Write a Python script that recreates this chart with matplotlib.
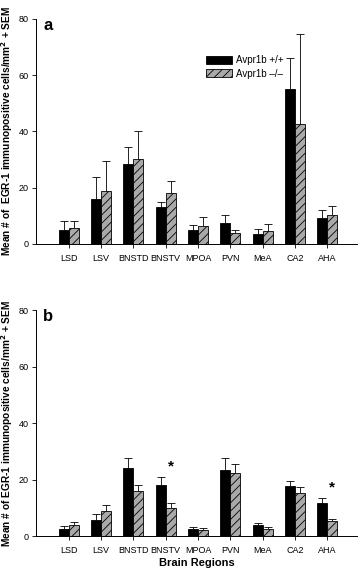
import matplotlib
matplotlib.use('Agg')
import matplotlib.pyplot as plt
import numpy as np

plt.rcParams['font.family'] = ['Liberation Sans', 'DejaVu Sans']
plt.rcParams['hatch.linewidth'] = 0.6

regions = ['LSD', 'LSV', 'BNSTD', 'BNSTV', 'MPOA', 'PVN', 'MeA', 'CA2', 'AHA']
groups = ['Avpr1b +/+', 'Avpr1b \u2013/\u2013']

# panel a: means and SEM
a_wt = [5.0, 15.9, 28.4, 13.3, 4.9, 7.3, 3.7, 55.2, 9.1]
a_wt_sem = [3.3, 7.8, 6.1, 1.6, 1.7, 3.0, 1.5, 10.8, 3.1]
a_ko = [5.6, 18.8, 30.2, 18.2, 6.4, 3.9, 4.7, 42.7, 10.3]
a_ko_sem = [2.7, 10.5, 10.1, 4.2, 3.2, 1.2, 2.3, 31.9, 3.2]

# panel b: means and SEM
b_wt = [2.6, 5.5, 24.1, 18.1, 2.6, 23.4, 3.8, 17.6, 11.7]
b_wt_sem = [0.9, 2.3, 3.6, 2.7, 0.6, 4.1, 0.9, 2.0, 1.6]
b_ko = [3.9, 8.7, 15.9, 9.9, 2.2, 22.3, 2.4, 15.3, 5.3]
b_ko_sem = [0.9, 2.4, 2.2, 1.7, 0.5, 3.2, 0.9, 1.9, 0.8]

# significance stars in panel b (region names)
b_stars = ['BNSTV', 'AHA']

ylabel_a = 'Mean # of  EGR-1 immunopositive cells/mm$^\\mathbf{2}$ + SEM'
ylabel_b = 'Mean # of EGR-1 immunopositive cells/mm$^\\mathbf{2}$ + SEM'


def draw_panel(ax, wt, wt_sem, ko, ko_sem, letter, ylabel):
    '''
    Draws one grouped bar panel with upper-only error bars.
    '''
    x = np.arange(len(regions))
    w = 0.31
    ax.bar(x - w / 2, wt, w, color='black', edgecolor='black',
           linewidth=0.6, label=groups[0], zorder=2)
    ax.bar(x + w / 2, ko, w, color='#a9a9a9', edgecolor='black',
           linewidth=0.6, hatch='////', label=groups[1], zorder=2)
    for xs, m, s in [(x - w / 2, wt, wt_sem), (x + w / 2, ko, ko_sem)]:
        eb = ax.errorbar(xs, m, yerr=[np.zeros(len(s)), s], fmt='none',
                         ecolor='black', elinewidth=0.6, capsize=3,
                         capthick=0.6, zorder=1)
        eb[1][0].set_visible(False)

    ax.set_xlim(-1.02, 8.93)
    ax.set_ylim(0, 80)
    ax.set_yticks([0, 20, 40, 60, 80])
    ax.set_xticks(x)
    ax.set_xticklabels(regions)
    ax.tick_params(axis='both', labelsize=6.5, length=3, width=0.6,
                   direction='out', pad=2)
    ax.tick_params(axis='x', pad=4)
    for sp in ['top', 'right']:
        ax.spines[sp].set_visible(False)
    for sp in ['left', 'bottom']:
        ax.spines[sp].set_linewidth(0.7)
    ax.text(0.022, 1.005, letter, transform=ax.transAxes, fontsize=12,
            fontweight='bold', va='top', ha='left')
    ax.set_ylabel(ylabel, fontsize=7.3, fontweight='bold')
    ax.yaxis.set_label_coords(-0.064, 0.5)
    return x, w


fig = plt.figure(figsize=(3.6, 5.7), dpi=100)
ax1 = fig.add_axes([0.1, 0.572, 0.892, 0.395])
ax2 = fig.add_axes([0.1, 0.0596, 0.892, 0.3965])

draw_panel(ax1, a_wt, a_wt_sem, a_ko, a_ko_sem, 'a', ylabel_a)
x, w = draw_panel(ax2, b_wt, b_wt_sem, b_ko, b_ko_sem, 'b', ylabel_b)

ax1.legend(loc='upper left', bbox_to_anchor=(0.515, 0.86), frameon=False,
           fontsize=7, handlelength=2.6, handleheight=0.9,
           labelspacing=0.35, handletextpad=0.5, borderpad=0)

for name in b_stars:
    i = regions.index(name)
    top = max(b_wt[i] + b_wt_sem[i], b_ko[i] + b_ko_sem[i])
    ax2.text(x[i] + w / 2, top + 1.5, '*', ha='center', va='bottom',
             fontsize=11, fontweight='bold')

ax2.set_xlabel('Brain Regions', fontsize=8, fontweight='bold', labelpad=2)

fig.savefig('out.png', dpi=100)
